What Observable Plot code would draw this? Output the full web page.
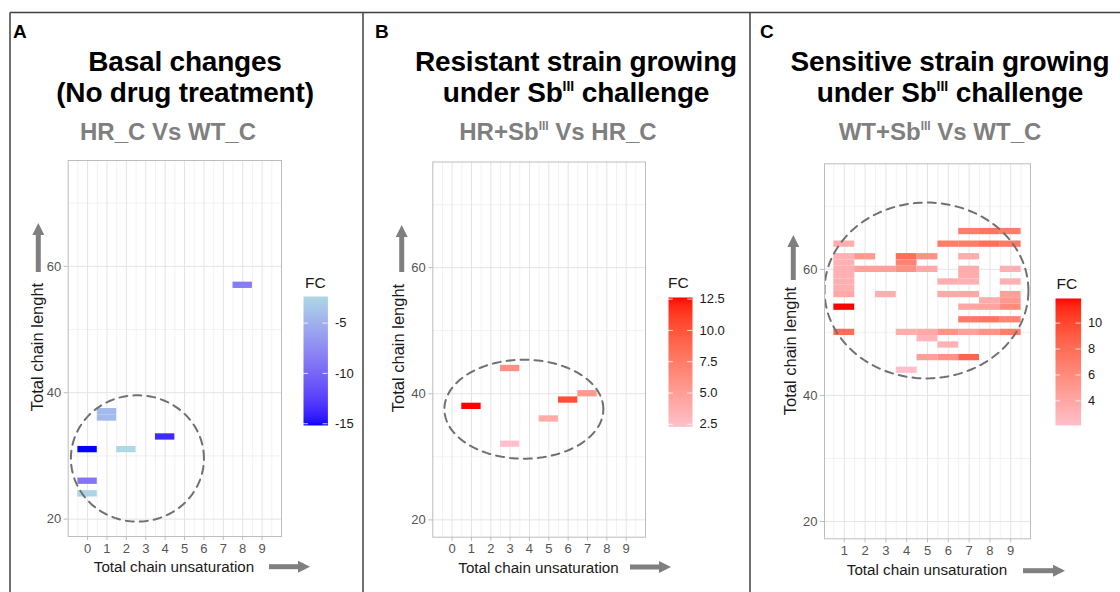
<!DOCTYPE html>
<html><head><meta charset="utf-8">
<script src="https://cdn.jsdelivr.net/npm/d3@7"></script>
<script src="https://cdn.jsdelivr.net/npm/@observablehq/plot@0.6"></script>
<style>
body{margin:0;background:#fff;font-family:"Liberation Sans",Arial,sans-serif;}
#page{position:relative;width:1120px;height:592px;overflow:hidden;background:#fff;}
.abs{position:absolute;}
.letter{font-weight:bold;font-size:19px;line-height:20px;color:#000;}
.title{font-weight:bold;font-size:28px;line-height:31px;letter-spacing:-0.2px;color:#000;white-space:nowrap;text-align:center;transform:translateX(-50%);}
.sub{font-weight:bold;font-size:24px;line-height:26px;color:#7f7f7f;white-space:nowrap;transform:translateX(-50%);}
.sup{font-size:14px;position:relative;top:-11px;letter-spacing:0;}
.sup2{font-size:12px;position:relative;top:-9.5px;}
.xlab{font-size:15.2px;line-height:17px;color:#1a1a1a;white-space:nowrap;transform:translateX(-50%);}
.ylab{font-size:16.5px;line-height:18px;color:#1a1a1a;white-space:nowrap;transform:translate(-50%,-50%) rotate(-90deg);}
.fc{font-size:15.5px;line-height:17px;color:#1a1a1a;}
</style></head>
<body><div id="page">
<div id="pA" class="abs" style="left:0;top:0"></div>
<div id="pB" class="abs" style="left:363px;top:0"></div>
<div id="pC" class="abs" style="left:750px;top:0"></div>
<div id="lA" class="abs" style="left:303.3px;top:296px"></div>
<div id="lB" class="abs" style="left:668.3px;top:296.7px"></div>
<div id="lC" class="abs" style="left:1055px;top:297.7px"></div>

<div class="abs letter" style="left:13px;top:22px">A</div>
<div class="abs letter" style="left:375px;top:22px">B</div>
<div class="abs letter" style="left:760px;top:22px">C</div>

<div class="abs title" style="left:185px;top:46px">Basal changes<br>(No drug treatment)</div>
<div class="abs title" style="left:576px;top:46px">Resistant strain growing<br>under Sb<span class="sup">III</span> challenge</div>
<div class="abs title" style="left:950px;top:46px">Sensitive strain growing<br>under Sb<span class="sup">III</span> challenge</div>

<div class="abs sub" style="left:168px;top:118.7px">HR_C Vs WT_C</div>
<div class="abs sub" style="left:558px;top:118.7px">HR+Sb<span class="sup2">III</span> Vs HR_C</div>
<div class="abs sub" style="left:940px;top:118.7px">WT+Sb<span class="sup2">III</span> Vs WT_C</div>

<div class="abs xlab" style="left:174px;top:558px">Total chain unsaturation</div>
<div class="abs xlab" style="left:538.5px;top:559px">Total chain unsaturation</div>
<div class="abs xlab" style="left:927px;top:561px">Total chain unsaturation</div>

<div class="abs ylab" style="left:37px;top:347px">Total chain lenght</div>
<div class="abs ylab" style="left:398px;top:348px">Total chain lenght</div>
<div class="abs ylab" style="left:790px;top:351px">Total chain lenght</div>

<div class="abs fc" style="left:305px;top:274px">FC</div>
<div class="abs fc" style="left:668px;top:274px">FC</div>
<div class="abs fc" style="left:1056.5px;top:275px">FC</div>

<svg class="abs" style="left:0;top:0;pointer-events:none" width="1120" height="592">
  <g stroke="#404040" stroke-width="1.5" fill="none">
    <line x1="10" y1="12.5" x2="1120" y2="12.5"/>
    <line x1="10" y1="12.5" x2="10" y2="592"/>
    <line x1="363" y1="12.5" x2="363" y2="592"/>
    <line x1="750" y1="12.5" x2="750" y2="592"/>
  </g>
  <g fill="#7f7f7f" stroke="#7f7f7f">
    <line x1="269" y1="566.7" x2="300" y2="566.7" stroke-width="5"/>
    <polygon points="298,560.7 310,566.7 298,572.7" stroke="none"/>
    <line x1="630" y1="567" x2="661" y2="567" stroke-width="5"/>
    <polygon points="659,561 671,567 659,573" stroke="none"/>
    <line x1="1023" y1="570.7" x2="1055" y2="570.7" stroke-width="5"/>
    <polygon points="1053,564.7 1065,570.7 1053,576.7" stroke="none"/>
    <line x1="38.3" y1="272" x2="38.3" y2="233" stroke-width="5"/>
    <polygon points="32.3,235 38.3,223 44.3,235" stroke="none"/>
    <line x1="401.7" y1="272" x2="401.7" y2="235" stroke-width="5"/>
    <polygon points="395.7,237 401.7,225 407.7,237" stroke="none"/>
    <line x1="793.3" y1="280" x2="793.3" y2="245" stroke-width="5"/>
    <polygon points="787.3,247 793.3,235 799.3,247" stroke="none"/>
  </g>
</svg>
</div>
<script>
// ---------- data ----------
// Panel A: HR_C vs WT_C (negative fold changes)
const aX  = [8,    1,    1,    0,     2,    4,    0,    0];
const aY  = [57,   36,   37,   31,    31,   33,   26,   24];
const aFC = [-8.5, -4.4, -4.4, -15.17,-2.36,-13.8,-9.0, -2.6];

// Panel B: HR+SbIII vs HR_C
const bX  = [1,     3,   3,   5,   6,    7];
const bY  = [38,    44,  32,  36,  39,   40];
const bFC = [12.63, 6.0, 2.3, 4.0, 10.3, 5.3];

// Panel C: WT+SbIII vs WT_C
const cX  = [7,8,9,  1,6,7,8,9,  1,2,4,5,7,  1,4,  1,2,3,4,5,7,9,  1,7,  1,6,7,9,  1,  1,3,6,7,9,  8,9,  1,7,8,9,  7,8,9,  1,4,5,6,7,8,9,  5,  6,  5,6,7,  4];
const cY  = [66,66,66, 64,64,64,64,64, 62,62,62,62,62, 61,61, 60,60,60,60,60,60,60, 59,59, 58,58,58,58, 57, 56,56,56,56,56, 55,55, 54,54,54,54, 52,52,52, 50,50,50,50,50,50,50, 49, 48, 46,46,46, 44];
const cFC = [7,7.5,7, 3.5,7,7,7.8,7.2, 3.2,5,8,5.5,3.6, 3.2,6.5, 3.3,4.5,4.5,5.5,3.8,3.6,3.3, 3.3,3.6, 3.4,3.5,3.3,3.3, 3.4, 3.8,3.4,3.8,4,4.5, 3.6,5, 11.9,4,4.2,6, 7.2,7.5,6.5, 8,3.5,3.8,5.5,4.5,5.5,7, 3, 3.2, 4.5,5.5,8.5, 2.1];

// axes / ticks
const xTicksAB = [0,1,2,3,4,5,6,7,8,9];
const xMinorAB = [-0.5,0.5,1.5,2.5,3.5,4.5,5.5,6.5,7.5,8.5,9.5];
const xTicksC  = [1,2,3,4,5,6,7,8,9];
const xMinorC  = [0.5,1.5,2.5,3.5,4.5,5.5,6.5,7.5,8.5,9.5];
const yTicks   = [20,40,60];
const yMinor   = [30,50,70];
const legTicksA = [-5,-10,-15];
const legTicksB = [2.5,5,7.5,10,12.5];
const legTicksC = [4,6,8,10];

// dashed ring annotations [cx, cy, rx, ry] in data units
const ringA = [2.57, 29.6, 3.43, 10.0];
const ringB = [3.71, 37.55, 4.11, 7.85];
const ringC = [4.95, 56.65, 4.9, 13.95];

const rangeA = ["blue", "lightblue"];
const rangeB = ["pink", "red"];
const rangeC = ["pink", "red"];

// ---------- drawing ----------
const FONT = "Liberation Sans, Arial, sans-serif";
function panel(o) {
  const data = o.xs.map((x, i) => ({x, y: o.ys[i], fc: o.fcs[i]}));
  const ext = d3.extent(o.fcs);
  const ring = d3.range(0, 361, 2).map(a => ({
    x: o.ring[0] + o.ring[2] * Math.cos(a * Math.PI / 180),
    y: o.ring[1] + o.ring[3] * Math.sin(a * Math.PI / 180)
  }));
  return Plot.plot({
    width: o.width, height: 592,
    marginLeft: o.ml, marginRight: o.mr, marginTop: o.mt, marginBottom: o.mb,
    x: {domain: o.xDomain},
    y: {domain: [17.25, 76.75]},
    color: {type: "linear", domain: ext, range: o.range, interpolate: "lab"},
    style: {fontFamily: FONT, fontSize: "13px", background: "transparent", overflow: "visible"},
    marks: [
      Plot.ruleX(o.xMinor, {x: d => d, stroke: "#efefef", strokeWidth: 0.8}),
      Plot.ruleY(yMinor, {y: d => d, stroke: "#efefef", strokeWidth: 0.8}),
      Plot.ruleX(o.xTicks, {x: d => d, stroke: "#e4e4e4", strokeWidth: 1}),
      Plot.ruleY(yTicks, {y: d => d, stroke: "#e4e4e4", strokeWidth: 1}),
      Plot.rect(data, {x1: d => d.x - 0.5, x2: d => d.x + 0.5, y1: d => d.y - 0.5, y2: d => d.y + 0.5, fill: "fc", inset: 0}),
      Plot.line(ring, {x: "x", y: "y", stroke: "#707070", strokeWidth: 2, strokeDasharray: "8,6", clip: true}),
      Plot.frame({stroke: "#bdbdbd"}),
      Plot.axisX(o.xTicks, {tickSize: 4, tickPadding: 3, stroke: "#bdbdbd", fill: "#555", label: null, fontSize: 13}),
      Plot.axisY(yTicks, {tickSize: 4, tickPadding: 3, stroke: "#bdbdbd", fill: "#555", label: null, fontSize: 13})
    ]
  });
}
function legend(o) {
  const ext = d3.extent(o.fcs);
  return Plot.plot({
    width: o.w + 40, height: o.h,
    marginLeft: 0, marginRight: 40, marginTop: 0, marginBottom: 0,
    x: {domain: [0, 1], axis: null},
    y: {domain: ext},
    color: {type: "linear", domain: ext, range: o.range, interpolate: "lab"},
    style: {fontFamily: FONT, fontSize: "13px", background: "transparent", overflow: "visible"},
    marks: [
      Plot.raster({fill: (x, y) => y, x1: 0, x2: 1, y1: ext[0], y2: ext[1], pixelSize: 1}),
      Plot.ruleY(o.ticks, {y: d => d, x1: 0, x2: 0.2, stroke: "white", strokeOpacity: 0.8}),
      Plot.ruleY(o.ticks, {y: d => d, x1: 0.8, x2: 1, stroke: "white", strokeOpacity: 0.8}),
      Plot.axisY(o.ticks, {anchor: "right", tickSize: 0, tickPadding: 7, tickFormat: o.fmt, fill: "#1a1a1a", label: null, fontSize: 13})
    ]
  });
}

document.getElementById("pA").append(panel({xs: aX, ys: aY, fcs: aFC, range: rangeA, ring: ringA,
  xDomain: [-1, 10], xTicks: xTicksAB, xMinor: xMinorAB, width: 300, ml: 67.7, mr: 19, mt: 160, mb: 56}));
document.getElementById("pB").append(panel({xs: bX, ys: bY, fcs: bFC, range: rangeB, ring: ringB,
  xDomain: [-1, 10], xTicks: xTicksAB, xMinor: xMinorAB, width: 300, ml: 69.3, mr: 18, mt: 161.5, mb: 55.3}));
document.getElementById("pC").append(panel({xs: cX, ys: cY, fcs: cFC, range: rangeC, ring: ringC,
  xDomain: [0.05, 9.95], xTicks: xTicksC, xMinor: xMinorC, width: 300, ml: 74, mr: 20, mt: 163.3, mb: 53.7}));

document.getElementById("lA").append(legend({fcs: aFC, range: rangeA, ticks: legTicksA, fmt: d => String(d), w: 24.4, h: 129}));
document.getElementById("lB").append(legend({fcs: bFC, range: rangeB, ticks: legTicksB, fmt: d => d.toFixed(1), w: 24, h: 129.3}));
document.getElementById("lC").append(legend({fcs: cFC, range: rangeC, ticks: legTicksC, fmt: d => String(d), w: 26, h: 129}));
</script>
</body></html>
